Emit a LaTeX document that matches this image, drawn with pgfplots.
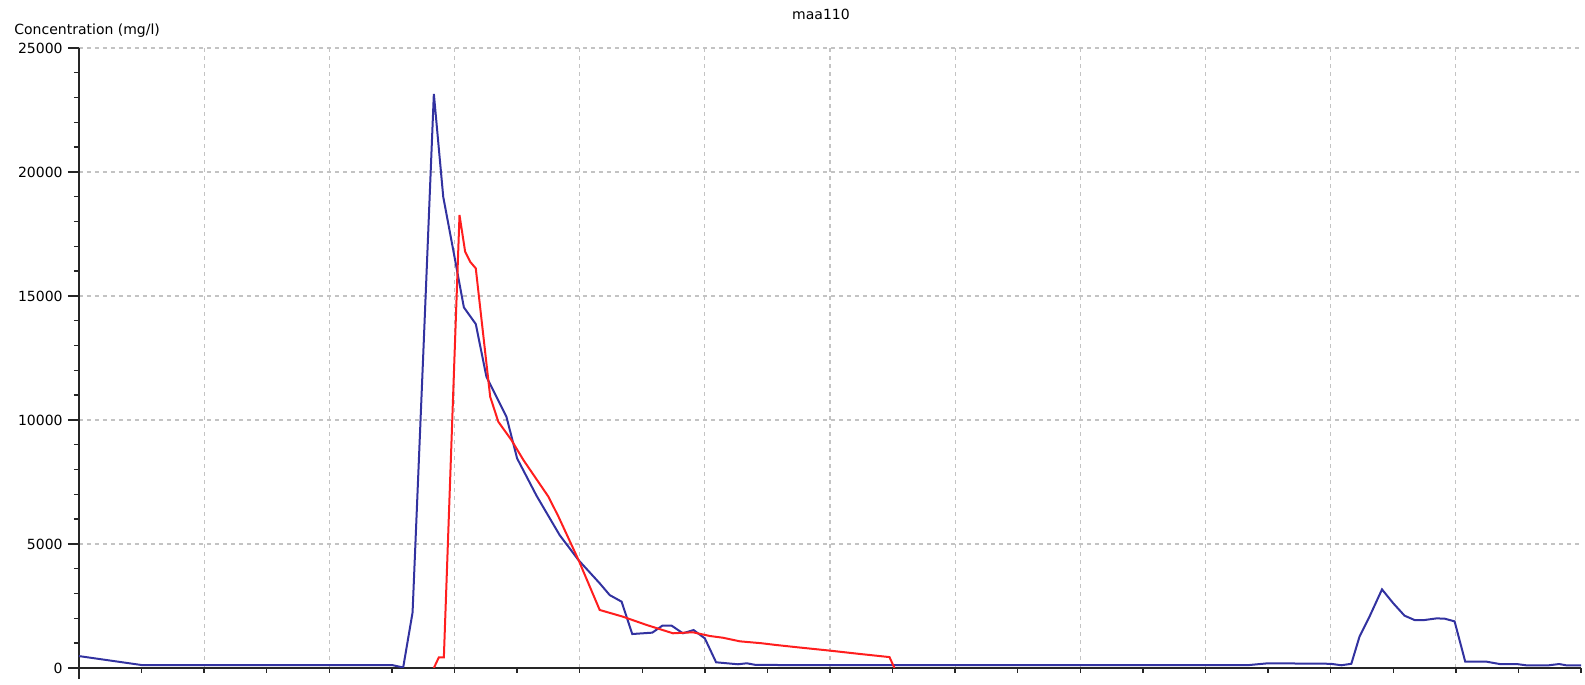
\documentclass[border=0pt]{standalone}
\usepackage{pgfplots}
\pgfplotsset{compat=1.18}
\usepackage{fontspec}
\setmainfont{DejaVu Sans}
\definecolor{cblue}{RGB}{50,50,160}
\definecolor{cred}{RGB}{255,30,30}
\definecolor{cgrid}{RGB}{195,195,195}
\begin{document}
\begin{tikzpicture}
\begin{axis}[
  at={(0,0)}, anchor=origin,
  scale only axis,
  width=751pt, height=310pt,
  xmin=0, xmax=24, ymin=0, ymax=25000,
  axis lines*=left,
  axis line style={line width=0.8pt, black!85},
  tick align=outside,
  major tick length=5.5pt,
  minor tick length=2.5pt,
  tick style={line width=0.7pt, black!85},
  scaled y ticks=false,
  xtick={0},
  xticklabels={},
  minor xtick={2,4,...,22},
  xminorgrids,
  extra x ticks={0,1,...,24},
  extra x tick labels={},
  extra x tick style={major tick length=2.5pt},
  ytick={0,5000,...,25000},
  yticklabels={0,5000,10000,15000,20000,25000},
  minor y tick num=4,
  ymajorgrids,
  major grid style={cgrid, line width=0.6pt, dash pattern=on 2pt off 2pt},
  minor grid style={cgrid, line width=0.6pt, dash pattern=on 2pt off 2pt},
  ticklabel style={font=\fontsize{7pt}{8pt}\selectfont, inner sep=0pt},
  yticklabel style={xshift=-2.5pt},
  title={maa110},
  title style={at={(0.494,1)}, anchor=center, yshift=11pt, inner sep=0pt, font=\fontsize{7pt}{8pt}\selectfont},
  every axis y label/.style={at={(axis description cs:0,1)}, anchor=west, xshift=-32.5pt, yshift=8.5pt, inner sep=0pt, font=\fontsize{7pt}{8pt}\selectfont},
  ylabel={Concentration (mg/l)},
]
\addplot[cblue, line width=1pt] coordinates {
(0,480) (1.0,120) (5.0,120) (5.18,20) (5.33,2240) (5.5,12600) (5.67,23150)
(5.82,19000) (5.98,16850) (6.15,14540) (6.34,13870) (6.51,11745) (6.83,10130)
(7.0,8455) (7.31,6950) (7.68,5360) (7.98,4355) (8.32,3415) (8.48,2940) (8.67,2675)
(8.84,1370) (9.16,1425) (9.32,1705) (9.47,1705) (9.65,1400) (9.82,1530) (10.0,1195)
(10.18,230) (10.53,150) (10.67,190) (10.8,130) (11.2,120) (18.7,120) (19.0,190)
(20.0,170) (20.17,110) (20.33,170) (20.46,1260) (20.62,2070) (20.82,3170)
(21.0,2610) (21.18,2110) (21.34,1935) (21.5,1935) (21.69,2000) (21.82,1990)
(21.98,1880) (22.15,255) (22.49,255) (22.7,160) (22.97,160) (23.12,110)
(23.49,110) (23.65,160) (23.76,110) (24.0,110)
};
\addplot[cred, line width=1pt] coordinates {
(5.67,0) (5.75,430) (5.83,430) (6.08,18265) (6.17,16785) (6.25,16380) (6.34,16115)
(6.57,10940) (6.70,9930) (6.91,9190) (7.10,8390) (7.50,6910) (7.66,6110)
(7.98,4365) (8.32,2340) (8.69,2070) (9.07,1735) (9.49,1400) (9.81,1440)
(10.08,1290) (10.29,1220) (10.56,1075) (10.9,1000) (11.13,930) (11.5,830)
(12.0,700) (12.5,560) (12.95,440) (13.03,0)
};
\end{axis}
\pgfresetboundingbox
\useasboundingbox (-39.5pt,-8.5pt) rectangle (753pt,334pt);
\end{tikzpicture}
\end{document}
